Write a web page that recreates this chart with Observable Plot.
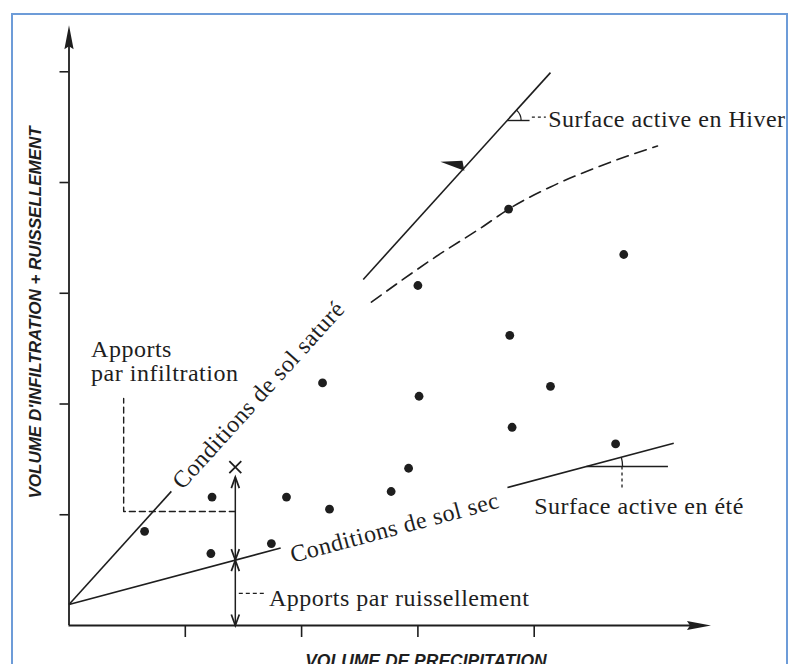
<!DOCTYPE html>
<html><head><meta charset="utf-8">
<script src="https://cdn.jsdelivr.net/npm/d3@7"></script>
<script src="https://cdn.jsdelivr.net/npm/@observablehq/plot@0.6"></script>
<style>
html,body{margin:0;padding:0;background:#fff;}
#wrap{position:relative;width:792px;height:664px;overflow:hidden;background:#fff;}
#frame{position:absolute;left:11px;top:13px;width:777px;height:720px;border:2px solid #6d9cd8;box-sizing:border-box;pointer-events:none;}
g[font-family="Liberation Serif"]{letter-spacing:0.5px;}
</style></head><body>
<div id="wrap"><div id="chart"></div><div id="frame"></div></div>
<script>
// ---- values (axis units) ----
const xTicks = [1, 2, 3, 4];
const yTicks = [1, 2, 3, 4, 5];
const xAxisEnd = 5.52;
const yAxisEnd = 5.42;

const pointX = [0.65, 1.23, 1.22, 1.74, 1.87, 2.24, 2.18, 2.77, 2.92, 3.01, 3.00, 3.78, 3.79, 3.81, 4.14, 4.70, 4.77];
const pointY = [0.85, 1.16, 0.65, 0.74, 1.16, 1.05, 2.19, 1.21, 1.42, 2.07, 3.07, 3.76, 2.62, 1.79, 2.16, 1.64, 3.35];

const lineLabels = ["Conditions de sol saturé", "Conditions de sol sec"];
const lineIntercepts = [0.19, 0.19];
const lineSlopes = [1.16, 0.28];
const lineGapStart = [0.88, 1.82];
const lineGapEnd = [2.53, 3.77];
const lineEnd = [4.14, 5.20];
const lineLabelX = [1.63, 2.80];

const curveX = [2.60, 3.14, 3.57, 3.78, 4.14, 4.57, 5.06];
const curveY = [2.92, 3.32, 3.61, 3.76, 3.96, 4.15, 4.33];

const measureX = 1.43;
const measureTop = 1.34;
const crossY = 1.43;
const infiltrationLevel = 1.03;
const infiltrationLeaderX = 0.47;
const infiltrationLeaderTop = 2.05;
const runoffLeaderX = [1.46, 1.68];
const runoffLeaderY = 0.29;

const winterVertexY = 4.56;
const winterLegEnd = 3.96;
const winterLeaderX = [3.98, 4.10];
const winterLeaderY = 4.59;
const barbX = 3.40;
const summerVertexY = 1.436;
const summerLegEnd = 5.15;
const summerLeaderX = 4.755;
const summerLeaderBottom = 1.22;

const noteTexts = ["Apports", "par infiltration", "Apports par ruissellement", "Surface active en Hiver", "Surface active en été"];
const noteX = [0.19, 0.19, 1.72, 4.12, 4.00];
const noteY = [2.42, 2.21, 0.18, 4.50, 1.01];

const xTitle = "VOLUME DE PRECIPITATION";
const yTitle = "VOLUME D'INFILTRATION + RUISSELLEMENT";

// ---- layout ----
const W = 792, H = 664;
const mL = 68.5, mR = 25.7, mT = 15.9, mB = 39;
const xDomain = [0, 6], yDomain = [0, 5.5];
const kx = (W - mL - mR) / (xDomain[1] - xDomain[0]);
const ky = (H - mT - mB) / (yDomain[1] - yDomain[0]);
const ink = "#1e1e1e";
const serif = {fontFamily: "Liberation Serif", fontSize: 24, fill: ink};

const lineAt = (i, x) => lineIntercepts[i] + lineSlopes[i] * x;
const screenAngle = (i) => Math.atan(lineSlopes[i] * ky / kx);
const segs = [];
lineSlopes.forEach((m, i) => {
  segs.push({i, x1: 0, x2: lineGapStart[i]});
  segs.push({i, x1: lineGapEnd[i], x2: lineEnd[i]});
});

const arrowHead = {draw(ctx) { ctx.moveTo(0, 0); ctx.lineTo(4.6, 24); ctx.lineTo(0, 21); ctx.lineTo(-4.6, 24); ctx.closePath(); }};
const chevron = {draw(ctx) { ctx.moveTo(-4, 11); ctx.lineTo(0, 0); ctx.lineTo(4, 11); }};
const barb = {draw(ctx) { ctx.moveTo(-24, -6); ctx.lineTo(-2, -7); ctx.lineTo(0, 3); ctx.closePath(); }};
const arcSymbol = (r, theta) => ({draw(ctx) { ctx.moveTo(r, 0); ctx.arc(0, 0, r, 0, -theta, true); }});

const winterVertexX = (winterVertexY - lineIntercepts[0]) / lineSlopes[0];
const summerVertexX = (summerVertexY - lineIntercepts[1]) / lineSlopes[1];
const dryAtMeasure = lineAt(1, measureX);

const chart = Plot.plot({
  width: W, height: H,
  marginLeft: mL, marginRight: mR, marginTop: mT, marginBottom: mB,
  x: {domain: xDomain},
  y: {domain: yDomain},
  style: {background: "transparent"},
  marks: [
    // axes
    Plot.ruleX([0], {y1: 0, y2: yAxisEnd - 0.1, stroke: ink, strokeWidth: 1.8}),
    Plot.ruleY([0], {x1: 0, x2: xAxisEnd - 0.1, stroke: ink, strokeWidth: 1.8}),
    Plot.axisY(yTicks, {tickSize: 9, fill: "none", stroke: ink, strokeWidth: 1.6}),
    Plot.axisX(xTicks, {tickSize: 12, fill: "none", stroke: ink, strokeWidth: 1.6}),
    Plot.dot([yAxisEnd], {x: 0, y: d => d, symbol: arrowHead, fill: ink, stroke: "none"}),
    Plot.dot([xAxisEnd], {x: d => d, y: 0, symbol: arrowHead, rotate: 90, fill: ink, stroke: "none"}),
    Plot.text([yTitle], {frameAnchor: "left", text: d => d, rotate: -90, dx: -33.5, dy: -8.5, textAnchor: "middle", lineAnchor: "middle",
      fontFamily: "Liberation Sans", fontWeight: "bold", fontStyle: "italic", fontSize: 17, fill: ink}),
    Plot.text([xTitle], {frameAnchor: "bottom", text: d => d, dx: 8, dy: 41, textAnchor: "middle", lineAnchor: "bottom",
      fontFamily: "Liberation Sans", fontWeight: "bold", fontStyle: "italic", fontSize: 17.5, fill: ink}),

    // straight lines (saturated / dry soil)
    Plot.link(segs, {x1: "x1", x2: "x2", y1: d => lineAt(d.i, d.x1), y2: d => lineAt(d.i, d.x2), stroke: ink, strokeWidth: 1.6}),
    Plot.text([lineLabels[0]], {x: lineLabelX[0], y: lineAt(0, lineLabelX[0]), text: d => d, rotate: -screenAngle(0) * 180 / Math.PI, lineAnchor: "middle", ...serif}),
    Plot.text([lineLabels[1]], {x: lineLabelX[1], y: lineAt(1, lineLabelX[1]), text: d => d, rotate: -screenAngle(1) * 180 / Math.PI, lineAnchor: "middle", dy: 10, ...serif}),

    // winter envelope (dashed)
    Plot.line(curveX, {x: curveX, y: curveY, curve: "monotone-x", stroke: ink, strokeWidth: 1.6, strokeDasharray: "12,7"}),

    // observations
    Plot.dot(pointX, {x: pointX, y: pointY, r: 4.4, fill: ink, stroke: "none"}),

    // measurement arrows
    Plot.link([0], {x1: measureX, x2: measureX, y1: 0, y2: measureTop, stroke: ink, strokeWidth: 1.5}),
    Plot.dot([measureTop, dryAtMeasure], {x: measureX, y: d => d, symbol: chevron, fill: "none", stroke: ink, strokeWidth: 1.7}),
    Plot.dot([dryAtMeasure, 0], {x: measureX, y: d => d, symbol: chevron, rotate: 180, fill: "none", stroke: ink, strokeWidth: 1.7}),
    Plot.dot([crossY], {x: measureX, y: d => d, symbol: "times", r: 5.5, stroke: ink, strokeWidth: 1.8}),

    // leaders
    Plot.line([0, 1, 2], {x: [measureX, infiltrationLeaderX, infiltrationLeaderX], y: [infiltrationLevel, infiltrationLevel, infiltrationLeaderTop],
      stroke: ink, strokeWidth: 1.4, strokeDasharray: "6,4"}),
    Plot.link([0], {x1: runoffLeaderX[0], x2: runoffLeaderX[1], y1: runoffLeaderY, y2: runoffLeaderY, stroke: ink, strokeWidth: 1.3, strokeDasharray: "4,3"}),
    Plot.link([0], {x1: winterLeaderX[0], x2: winterLeaderX[1], y1: winterLeaderY, y2: winterLeaderY, stroke: ink, strokeWidth: 1.3, strokeDasharray: "3,3"}),
    Plot.link([0], {x1: summerLeaderX, x2: summerLeaderX, y1: summerVertexY, y2: summerLeaderBottom, stroke: ink, strokeWidth: 1.3, strokeDasharray: "3,3"}),

    // angle marks ("surface active")
    Plot.link([0], {x1: winterVertexX, x2: winterLegEnd, y1: winterVertexY, y2: winterVertexY, stroke: ink, strokeWidth: 1.4}),
    Plot.dot([0], {x: winterVertexX, y: winterVertexY, symbol: arcSymbol(14, screenAngle(0)), fill: "none", stroke: ink, strokeWidth: 1.3}),
    Plot.link([0], {x1: summerVertexX, x2: summerLegEnd, y1: summerVertexY, y2: summerVertexY, stroke: ink, strokeWidth: 1.4}),
    Plot.dot([0], {x: summerVertexX, y: summerVertexY, symbol: arcSymbol(36, screenAngle(1)), fill: "none", stroke: ink, strokeWidth: 1.3}),
    Plot.dot([barbX], {x: d => d, y: d => lineAt(0, d), symbol: barb, fill: ink, stroke: "none"}),

    // annotations
    Plot.text(noteTexts, {x: noteX, y: noteY, text: d => d, textAnchor: "start", lineAnchor: "bottom", ...serif})
  ]
});
document.getElementById("chart").appendChild(chart);
</script>
</body></html>
